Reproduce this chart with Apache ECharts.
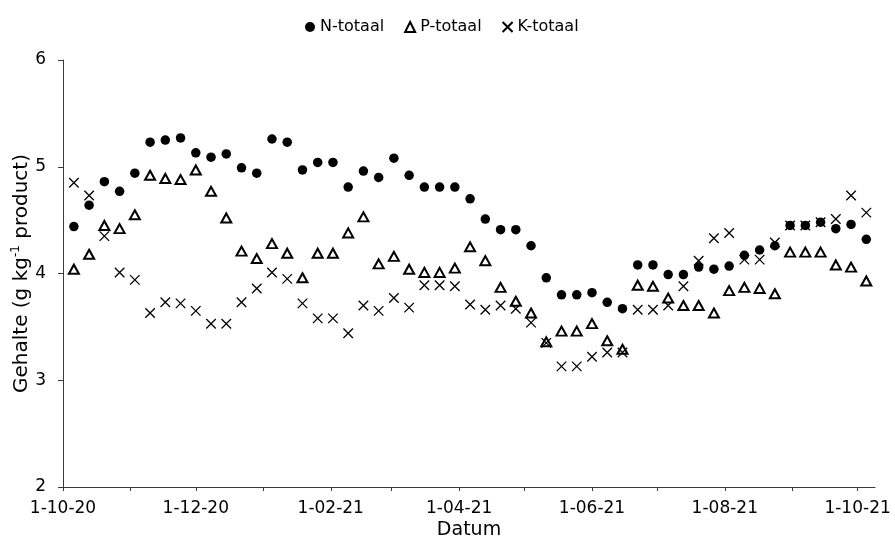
<!DOCTYPE html>
<html>
<head>
<meta charset="utf-8">
<script src="https://cdn.jsdelivr.net/npm/echarts@6/dist/echarts.min.js"></script>
<style>
  html, body { margin: 0; padding: 0; background: #fff; }
  #chart { width: 895px; height: 545px; }
</style>
</head>
<body>
<div id="chart"></div>
<script>
// Weekly sampling dates
const sampleDates = [
  '2020-10-06','2020-10-13','2020-10-20','2020-10-27','2020-11-03','2020-11-10','2020-11-17','2020-11-24',
  '2020-12-01','2020-12-08','2020-12-15','2020-12-22','2020-12-29','2021-01-05','2021-01-12','2021-01-19',
  '2021-01-26','2021-02-02','2021-02-09','2021-02-16','2021-02-23','2021-03-02','2021-03-09','2021-03-16',
  '2021-03-23','2021-03-30','2021-04-06','2021-04-13','2021-04-20','2021-04-27','2021-05-04','2021-05-11',
  '2021-05-18','2021-05-25','2021-06-01','2021-06-08','2021-06-15','2021-06-22','2021-06-29','2021-07-06',
  '2021-07-13','2021-07-20','2021-07-27','2021-08-03','2021-08-10','2021-08-17','2021-08-24','2021-08-31',
  '2021-09-07','2021-09-14','2021-09-21','2021-09-28','2021-10-05'
];

// Contents in g per kg product
const nTotaal = [
  4.44,4.64,4.86,4.77,4.94,5.23,5.25,5.27,5.13,5.09,5.12,4.99,4.94,5.26,5.23,4.97,
  5.04,5.04,4.81,4.96,4.90,5.08,4.92,4.81,4.81,4.81,4.70,4.51,4.41,4.41,4.26,3.96,
  3.80,3.80,3.82,3.73,3.67,4.08,4.08,3.99,3.99,4.06,4.04,4.07,4.17,4.22,4.26,4.45,
  4.45,4.48,4.42,4.46,4.32
];
const pTotaal = [
  4.04,4.18,4.45,4.42,4.55,4.92,4.89,4.88,4.97,4.77,4.52,4.21,4.14,4.28,4.19,3.96,
  4.19,4.19,4.38,4.53,4.09,4.16,4.04,4.01,4.01,4.05,4.25,4.12,3.87,3.74,3.63,3.36,
  3.46,3.46,3.53,3.37,3.29,3.89,3.88,3.77,3.70,3.70,3.63,3.84,3.87,3.86,3.81,4.20,
  4.20,4.20,4.08,4.06,3.93
];
const kTotaal = [
  4.85,4.73,4.35,4.01,3.94,3.63,3.73,3.72,3.65,3.53,3.53,3.73,3.86,4.01,3.95,3.72,
  3.58,3.58,3.44,3.70,3.65,3.77,3.68,3.89,3.89,3.88,3.71,3.66,3.70,3.67,3.54,3.35,
  3.13,3.13,3.22,3.26,3.26,3.66,3.66,3.70,3.88,4.12,4.33,4.38,4.13,4.13,4.29,4.45,
  4.45,4.48,4.51,4.73,4.57
];

// Axis range, labelled dates and monthly tick marks
const axisStart = '2020-10-01';
const axisEnd = '2021-10-09';
const labelDates = ['2020-10-01','2020-12-01','2021-02-01','2021-04-01','2021-06-01','2021-08-01','2021-10-01'];
const tickDates = [
  '2020-10-01','2020-11-01','2020-12-01','2021-01-01','2021-02-01','2021-03-01','2021-04-01',
  '2021-05-01','2021-06-01','2021-07-01','2021-08-01','2021-09-01','2021-10-01'
];
const yTicks = { min: 2, max: 6, interval: 1 };

const seriesNames = ['N-totaal', 'P-totaal', 'K-totaal'];

function ts(s) {
  const p = s.split('-').map(Number);
  return Date.UTC(p[0], p[1] - 1, p[2]);
}
function pairs(values) {
  return sampleDates.map((d, i) => [ts(d), values[i]]);
}
function fmtDate(v) {
  const d = new Date(v);
  const mm = String(d.getUTCMonth() + 1).padStart(2, '0');
  const yy = String(d.getUTCFullYear() % 100).padStart(2, '0');
  return d.getUTCDate() + '-' + mm + '-' + yy;
}

const FONT = 'DejaVu Sans';
const AXIS_COLOR = '#3a3a3a';
const crossPath = 'path://M0,0L10,10M10,0L0,10';

const chart = echarts.init(document.getElementById('chart'), null, { renderer: 'canvas' });

chart.setOption({
  animation: false,
  backgroundColor: '#ffffff',
  textStyle: { fontFamily: FONT, color: '#000' },
  legend: {
    left: 300,
    top: 14,
    itemGap: 20,
    itemWidth: 10,
    itemHeight: 10,
    textStyle: { fontFamily: FONT, fontSize: 16, color: '#000' },
    data: seriesNames
  },
  grid: { left: 63, right: 20, top: 60, bottom: 58, containLabel: false, outerBoundsMode: 'none' },
  xAxis: {
    type: 'value',
    min: ts(axisStart),
    max: ts(axisEnd),
    name: 'Datum',
    nameLocation: 'middle',
    nameGap: 34,
    nameMoveOverlap: false,
    nameTextStyle: { fontFamily: FONT, fontSize: 19, color: '#000' },
    axisLine: { show: true, lineStyle: { color: AXIS_COLOR, width: 1 } },
    axisTick: { show: true, inside: false, length: 4, customValues: tickDates.map(ts), lineStyle: { color: AXIS_COLOR } },
    axisLabel: {
      customValues: labelDates.map(ts),
      formatter: fmtDate,
      margin: 13,
      fontFamily: FONT,
      fontSize: 17,
      color: '#000'
    },
    splitLine: { show: false }
  },
  yAxis: {
    type: 'value',
    min: yTicks.min,
    max: yTicks.max,
    interval: yTicks.interval,
    name: 'Gehalte (g kg{sup|-1} product)',
    nameLocation: 'middle',
    nameGap: 30,
    nameMoveOverlap: false,
    nameTextStyle: {
      fontFamily: FONT, fontSize: 20, color: '#000',
      rich: { sup: { fontFamily: FONT, fontSize: 12, color: '#000', verticalAlign: 'top', lineHeight: 23 } }
    },
    axisLine: { show: true, lineStyle: { color: AXIS_COLOR, width: 1 } },
    axisTick: { show: true, inside: false, length: 5, lineStyle: { color: AXIS_COLOR } },
    axisLabel: { margin: 17, fontFamily: FONT, fontSize: 17, color: '#000' },
    splitLine: { show: false }
  },
  series: [
    {
      name: seriesNames[0],
      type: 'scatter',
      symbol: 'circle',
      symbolSize: 9.5,
      itemStyle: { color: '#000', opacity: 1 },
      data: pairs(nTotaal)
    },
    {
      name: seriesNames[1],
      type: 'scatter',
      symbol: 'emptyTriangle',
      symbolSize: [10, 9],
      itemStyle: { color: '#000', borderColor: '#000', borderWidth: 1.3, opacity: 1 },
      data: pairs(pTotaal)
    },
    {
      name: seriesNames[2],
      type: 'scatter',
      symbol: crossPath,
      symbolSize: 9.5,
      itemStyle: { color: 'rgba(0,0,0,0)', borderColor: '#000', borderWidth: 1.3, opacity: 1 },
      data: pairs(kTotaal)
    }
  ]
});
</script>
</body>
</html>
